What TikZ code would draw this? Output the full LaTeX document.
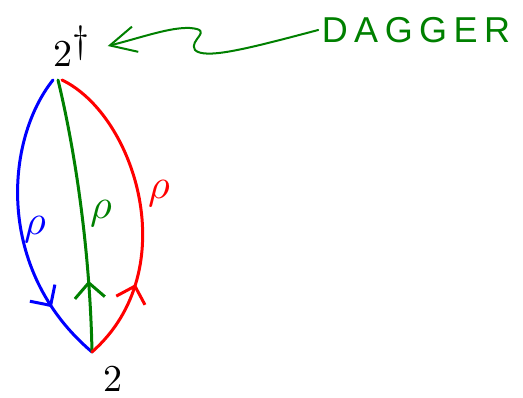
\documentclass[tikz,border=0pt]{standalone}
\usepackage{fontspec}
\usepackage{unicode-math}
\newfontfamily\tagfont[LetterSpace=18]{Liberation Sans}
\usetikzlibrary{arrows.meta,decorations.markings}

\begin{document}
\begin{tikzpicture}[x=1pt, y=-1pt, line cap=round, line join=round,
    wire/.style={line width=3pt},
    midarrow/.style={postaction={decorate, decoration={markings,
        mark=at position #1 with {\arrow{Straight Barb[length=15pt, width=30pt]}}}}},
    backarrow/.style={postaction={decorate, decoration={markings,
        mark=at position #1 with {\arrowreversed{Straight Barb[length=15pt, width=30pt]}}}}},
    numlabel/.style={font=\fontsize{38}{38}\selectfont},
    rholabel/.style={font=\fontsize{42}{42}\selectfont}]

    \useasboundingbox (0,0) rectangle (523,398);

    \node[numlabel] (top) at (72,46) {$2^{\textstyle\dagger}$};
    \node[numlabel] (bot) at (113,379) {$2$};
    \node[green!50!black, font=\fontsize{36}{36}\tagfont] (tag) at (416,30) {DAGGER};

    \coordinate (tl) at (53,80);
    \coordinate (tm) at (58,80);
    \coordinate (tr) at (62,80);
    \coordinate (btm) at (92,352);

    \draw[blue, wire, midarrow=0.8] (tl) .. controls (5,140) and (-5,270) .. (btm);
    \draw[green!50!black, wire, backarrow=0.74] (tm) .. controls (75,150) and (90,250) .. (btm);
    \draw[red, wire, backarrow=0.74] (tr) .. controls (135,115) and (185,270) .. (btm);

    \node[blue, rholabel] (rhoL) at (36,230) {$\rho$};
    \node[green!50!black, rholabel] (rhoM) at (102,214) {$\rho$};
    \node[red, rholabel] (rhoR) at (160,194) {$\rho$};

    \draw[green!50!black, line width=2pt, -{Straight Barb[length=26pt, width=26pt]}]
        (tag.west) .. controls (250,48) and (205,60) .. (195,50)
        .. controls (188,40) and (215,30) .. (190,28)
        .. controls (170,27) and (140,38) .. ([xshift=14pt]top.east);

\end{tikzpicture}
\end{document}
